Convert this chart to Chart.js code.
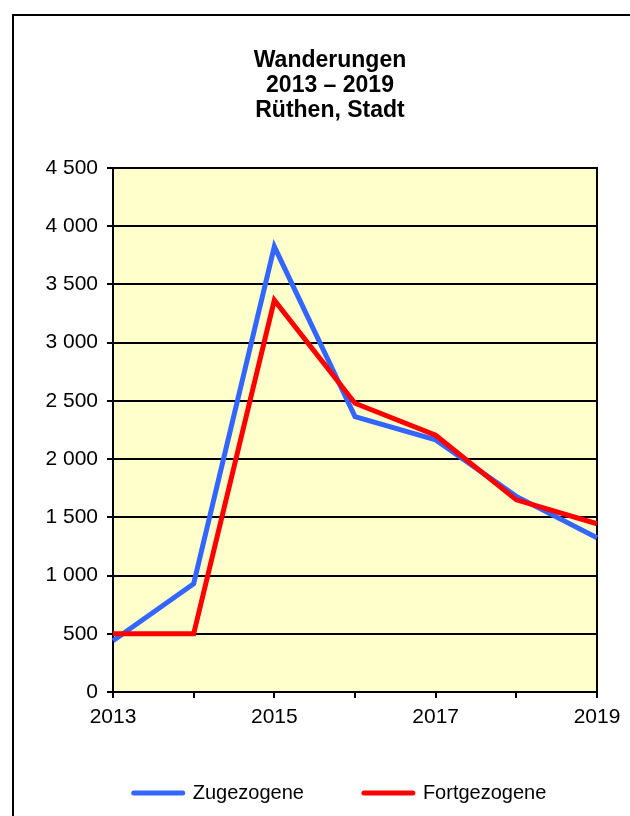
<!DOCTYPE html>
<html>
<head>
<meta charset="utf-8">
<script src="https://cdn.jsdelivr.net/npm/chart.js@4"></script>
<style>
  html, body { margin: 0; padding: 0; background: #fff; overflow: hidden; }
  #box { position: absolute; left: 12px; top: 14px; width: 640px; height: 830px; border: 2px solid #000; }
  #wrap { position: absolute; left: 0; top: 0; width: 632px; height: 800px; }
</style>
</head>
<body>
<div id="box"><div id="wrap"><canvas id="chart"></canvas></div></div>
<script>
// Wanderungen Rüthen, Stadt
const years = ['2013', '2014', '2015', '2016', '2017', '2018', '2019'];
const zugezogene = [440, 930, 3825, 2365, 2165, 1680, 1325];
const fortgezogene = [500, 500, 3365, 2480, 2205, 1650, 1445];
const yMin = 0, yMax = 4500, yStep = 500;

const FONT = '"Liberation Sans", Arial, sans-serif';
const fmt = v => String(v).replace(/\B(?=(\d{3})+(?!\d))/g, ' ');

const plotFrame = {
    id: 'plotFrame',
    afterLayout(chart) {
        // legend sits a bit right of the canvas centre in the original
        chart.legend.left += 10;
        chart.legend.right += 10;
    },
    beforeDraw(chart) {
        const a = chart.chartArea, ctx = chart.ctx;
        ctx.save();
        ctx.fillStyle = '#FFFFCC';
        ctx.fillRect(a.left, a.top, a.right - a.left, a.bottom - a.top);
        ctx.restore();
    },
    beforeDatasetsDraw(chart) {
        const a = chart.chartArea, ctx = chart.ctx;
        ctx.save();
        ctx.strokeStyle = '#000';
        ctx.lineWidth = 2;
        ctx.strokeRect(a.left, a.top, a.right - a.left, a.bottom - a.top);
        ctx.restore();
    }
};

const ctx = document.getElementById('chart').getContext('2d');
new Chart(ctx, {
    type: 'line',
    data: {
        labels: years,
        datasets: [
            {
                label: 'Zugezogene',
                data: zugezogene,
                borderColor: '#3366FF',
                backgroundColor: '#3366FF',
                borderWidth: 5,
                borderJoinStyle: 'miter',
                pointRadius: 0,
                tension: 0,
                order: 1
            },
            {
                label: 'Fortgezogene',
                data: fortgezogene,
                borderColor: '#FF0000',
                backgroundColor: '#FF0000',
                borderWidth: 5,
                borderJoinStyle: 'miter',
                pointRadius: 0,
                tension: 0,
                order: 0
            }
        ]
    },
    options: {
        responsive: true,
        maintainAspectRatio: false,
        animation: false,
        layout: { padding: { left: 0, right: 0, top: 0, bottom: 3 } },
        scales: {
            x: {
                offset: false,
                grid: { display: true, drawOnChartArea: false, color: '#000', lineWidth: 2, tickLength: 6 },
                border: { display: true, color: '#000', width: 2 },
                ticks: {
                    autoSkip: false,
                    maxRotation: 0,
                    padding: 7,
                    color: '#000',
                    font: { size: 21, family: FONT },
                    callback: (v, i) => (i % 2 === 0 ? years[i] : '')
                },
                afterFit: s => { s.height = 31; }
            },
            y: {
                min: yMin,
                max: yMax,
                grid: { color: '#000', lineWidth: 2, tickLength: 6 },
                border: { display: true, color: '#000', width: 2 },
                ticks: {
                    stepSize: yStep,
                    padding: 9,
                    color: '#000',
                    font: { size: 21, family: FONT },
                    callback: v => fmt(v)
                },
                afterFit: s => { s.width = 99; }
            },
            yR: {
                position: 'right',
                display: true,
                grid: { display: false },
                border: { display: false },
                ticks: { display: false },
                afterFit: s => { s.width = 49; }
            }
        },
        plugins: {
            title: {
                display: true,
                text: ['Wanderungen', '2013 \u2013 2019', 'R\u00fcthen, Stadt'],
                color: '#000',
                font: { size: 23, weight: 'bold', family: FONT, lineHeight: '25px' },
                padding: { top: 32, bottom: 45 }
            },
            legend: {
                position: 'bottom',
                maxHeight: 90,
                labels: {
                    usePointStyle: true,
                    pointStyle: 'line',
                    pointStyleWidth: 49,
                    padding: 60,
                    color: '#000',
                    font: { size: 20, family: FONT },
                    sort: (a, b) => a.datasetIndex - b.datasetIndex,
                    generateLabels: chart => Chart.defaults.plugins.legend.labels.generateLabels(chart)
                        .map(item => Object.assign(item, { lineCap: 'round', lineWidth: 5 }))
                }
            },
            tooltip: { enabled: false }
        }
    },
    plugins: [plotFrame]
});
</script>
</body>
</html>
